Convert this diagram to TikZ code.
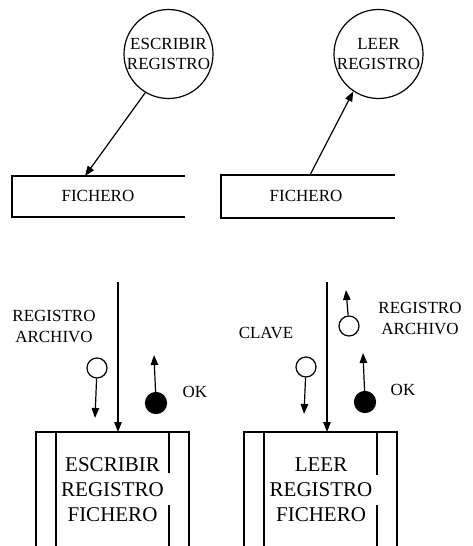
\documentclass[tikz,border=0pt]{standalone}
\usepackage{fontspec}
\setmainfont{Liberation Serif}
\usetikzlibrary{arrows.meta}
\begin{document}
\begin{tikzpicture}[x=1pt,y=-1pt,
  ln/.style={line width=1.2pt},
  arr/.style={line width=1.2pt,-{Triangle[length=10pt,width=7.5pt]}},
  proc/.style={circle,draw,line width=1.2pt,minimum size=89pt,inner sep=0pt,align=center,font=\fontsize{17}{20}\selectfont},
  lbl/.style={align=center,font=\fontsize{17}{21}\selectfont,inner sep=0pt},
  big/.style={align=center,font=\fontsize{21}{25}\selectfont,inner sep=0pt},
  flag/.style={circle,draw,line width=1.2pt,minimum size=20pt,inner sep=0pt},
  flagf/.style={flag,fill=black,minimum size=21pt}]
\useasboundingbox (0,0) rectangle (472,546);

% ---- top left: write record
\node[proc] (c1) at (168.5,54) {ESCRIBIR\\REGISTRO};
\draw[ln] (185,176) -- (12,176) -- (12,217) -- (185,217);
\node[lbl] (f1txt) at (98,196) {FICHERO};
\coordinate (f1top) at (85,176);
\draw[arr] (c1.239) -- (f1top);

% ---- top right: read record
\node[proc] (c2) at (378.5,54) {LEER\\REGISTRO};
\draw[ln] (395,175) -- (221,175) -- (221,218) -- (395,218);
\node[lbl] (f2txt) at (306,196) {FICHERO};
\coordinate (f2top) at (310,175);
\draw[arr] (f2top) -- (c2.236);

% ---- bottom left module
\draw[ln] (36,546) -- (36,432) -- (189,432) -- (189,546);
\draw[ln] (56,432) -- (56,546);
\draw[ln] (169,432) -- (169,473);
\draw[ln] (169,505) -- (169,546);
\node[big] (m1) at (112.5,490) {ESCRIBIR\\REGISTRO\\FICHERO};
\coordinate (m1in) at (118,282);
\coordinate (m1top) at (118,432);
\draw[arr] (m1in) -- (m1top);

\node[lbl] (l1) at (54,326.5) {REGISTRO\\ARCHIVO};
\node[flag] (g1) at (97,368) {};
\coordinate (g1e) at (95,418);
\draw[arr] (g1) -- (g1e);
\node[flagf] (g2) at (156,403) {};
\coordinate (g2e) at (154,355);
\draw[arr] (g2) -- (g2e);
\node[lbl] (ok1) at (195,392) {OK};

% ---- bottom right module
\draw[ln] (244,546) -- (244,432) -- (397,432) -- (397,546);
\draw[ln] (264,432) -- (264,546);
\draw[ln] (377,432) -- (377,475);
\draw[ln] (377,505) -- (377,546);
\node[big] (m2) at (321,490) {LEER\\REGISTRO\\FICHERO};
\coordinate (m2in) at (327,282);
\coordinate (m2top) at (327,432);
\draw[arr] (m2in) -- (m2top);

\node[lbl] (l2) at (266,333) {CLAVE};
\node[flag] (g3) at (306,367) {};
\coordinate (g3e) at (304,414);
\draw[arr] (g3) -- (g3e);
\node[flag] (g4) at (349,326) {};
\coordinate (g4e) at (346,290);
\draw[arr] (g4) -- (g4e);
\node[lbl] (l3) at (420,318.5) {REGISTRO\\ARCHIVO};
\node[flagf] (g5) at (365,402) {};
\coordinate (g5e) at (363,353);
\draw[arr] (g5) -- (g5e);
\node[lbl] (ok2) at (403,390) {OK};
\end{tikzpicture}
\end{document}
